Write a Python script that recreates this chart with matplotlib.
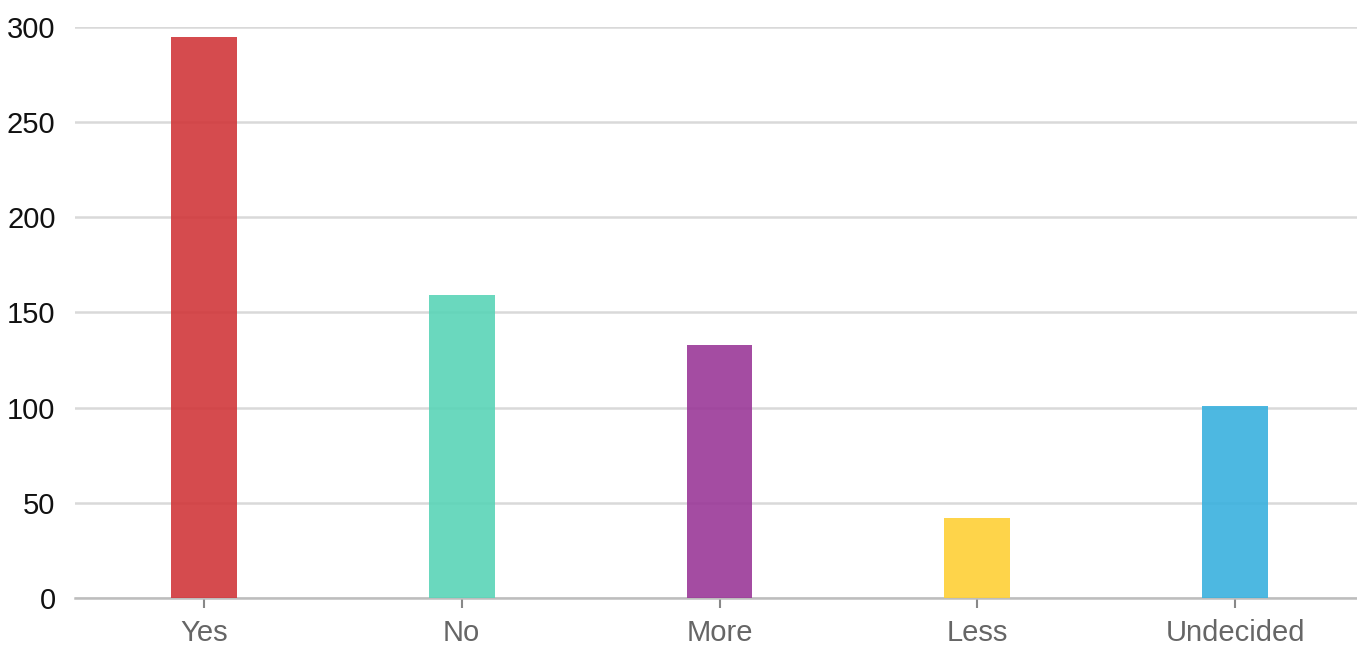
import matplotlib
matplotlib.use("Agg")
import matplotlib.pyplot as plt
from matplotlib import font_manager

# Dados do grafico
categorias = ["Yes", "No", "More", "Less", "Undecided"]
valores = [295, 159, 133, 42, 101]
cores = ["#D1373B", "#5AD4B7", "#9A3898", "#FED036", "#39B1DE"]
y_ticks = [0, 50, 100, 150, 200, 250, 300]

nomes = {f.name for f in font_manager.fontManager.ttflist}
fonte = "Liberation Sans Narrow" if "Liberation Sans Narrow" in nomes else "Liberation Sans"
plt.rcParams["font.family"] = [fonte, "DejaVu Sans"]

fig = plt.figure(figsize=(13.57, 6.48), dpi=100)
# eixo um pouco mais largo que a figura, como no original
ax = fig.add_axes([75 / 1357, 50 / 648, 1289 / 1357, 571 / 648])

x = range(len(categorias))
ax.bar(x, valores, width=0.256, color=cores, alpha=0.9, zorder=2)

ax.set_xlim(-0.5, len(categorias) - 0.5)
ax.set_ylim(0, 300)
ax.set_yticks(y_ticks)
ax.set_xticks(list(x))
ax.set_xticklabels(categorias)

ax.grid(axis="y", color="#D9D9D9", linewidth=1.8, zorder=1)
ax.set_axisbelow(True)
for s in ["top", "right", "left"]:
    ax.spines[s].set_visible(False)
ax.spines["bottom"].set_color("#BDBDBD")
ax.spines["bottom"].set_linewidth(1.8)
ax.spines["bottom"].set_zorder(1)

ax.tick_params(axis="y", length=0, pad=14, labelsize=21, labelcolor="#111111")
ax.tick_params(axis="x", length=7, width=1.5, color="#888888", pad=8,
               labelsize=21, labelcolor="#666666")

fig.savefig("out.png", dpi=100)
